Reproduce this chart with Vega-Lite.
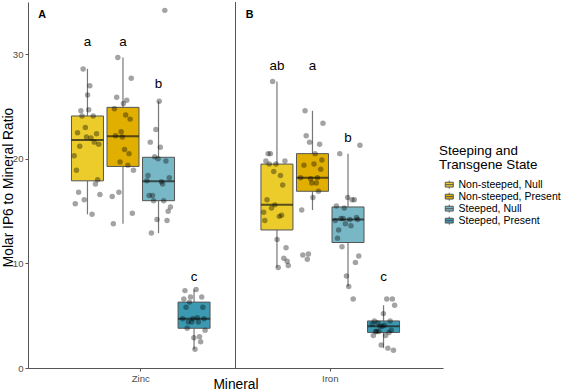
{
  "$schema": "https://vega.github.io/schema/vega-lite/v6.json",
  "width": 415,
  "height": 366,
  "autosize": "none",
  "padding": {"left": 28, "top": 2, "right": 120, "bottom": 24},
  "background": "white",
  "config": {
    "view": {"stroke": null},
    "font": "Liberation Sans",
    "axis": {
      "grid": false,
      "domainColor": "#555555",
      "domainWidth": 1,
      "tickColor": "#555555",
      "tickSize": 3,
      "tickWidth": 1,
      "labelColor": "#4D4D4D",
      "labelFontSize": 9.6,
      "labelFont": "Liberation Sans",
      "titleFont": "Liberation Sans",
      "titleFontSize": 13.8,
      "titleFontWeight": "normal",
      "titleColor": "black"
    }
  },
  "datasets": {
    "pts": [
      {"Mineral":"Zinc","State":"Non-steeped, Null","Sample":"a05","Ratio":20.3},
      {"Mineral":"Zinc","State":"Non-steeped, Null","Sample":"a06","Ratio":15.7},
      {"Mineral":"Zinc","State":"Non-steeped, Null","Sample":"a07","Ratio":18.9},
      {"Mineral":"Zinc","State":"Non-steeped, Null","Sample":"a08","Ratio":22.5},
      {"Mineral":"Zinc","State":"Non-steeped, Null","Sample":"a09","Ratio":16.8},
      {"Mineral":"Zinc","State":"Non-steeped, Null","Sample":"a10","Ratio":21.2},
      {"Mineral":"Zinc","State":"Non-steeped, Null","Sample":"a11","Ratio":24.6},
      {"Mineral":"Zinc","State":"Non-steeped, Null","Sample":"a12","Ratio":24.1},
      {"Mineral":"Zinc","State":"Non-steeped, Null","Sample":"a13","Ratio":28.6},
      {"Mineral":"Zinc","State":"Non-steeped, Null","Sample":"a14","Ratio":16.1},
      {"Mineral":"Zinc","State":"Non-steeped, Null","Sample":"a15","Ratio":23.0},
      {"Mineral":"Zinc","State":"Non-steeped, Null","Sample":"a16","Ratio":22.1},
      {"Mineral":"Zinc","State":"Non-steeped, Null","Sample":"a17","Ratio":26.1},
      {"Mineral":"Zinc","State":"Non-steeped, Null","Sample":"a18","Ratio":24.7},
      {"Mineral":"Zinc","State":"Non-steeped, Null","Sample":"a19","Ratio":27.0},
      {"Mineral":"Zinc","State":"Non-steeped, Null","Sample":"a20","Ratio":22.0},
      {"Mineral":"Zinc","State":"Non-steeped, Null","Sample":"a21","Ratio":14.7},
      {"Mineral":"Zinc","State":"Non-steeped, Null","Sample":"a22","Ratio":24.1},
      {"Mineral":"Zinc","State":"Non-steeped, Null","Sample":"a23","Ratio":21.6},
      {"Mineral":"Zinc","State":"Non-steeped, Null","Sample":"a24","Ratio":17.6},
      {"Mineral":"Zinc","State":"Non-steeped, Null","Sample":"a25","Ratio":22.4},
      {"Mineral":"Zinc","State":"Non-steeped, Null","Sample":"a26","Ratio":18.0},
      {"Mineral":"Zinc","State":"Non-steeped, Null","Sample":"a27","Ratio":21.4},
      {"Mineral":"Zinc","State":"Non-steeped, Null","Sample":"a28","Ratio":16.6},
      {"Mineral":"Zinc","State":"Non-steeped, Present","Sample":"b07","Ratio":16.4},
      {"Mineral":"Zinc","State":"Non-steeped, Present","Sample":"b08","Ratio":13.8},
      {"Mineral":"Zinc","State":"Non-steeped, Present","Sample":"b09","Ratio":24.8},
      {"Mineral":"Zinc","State":"Non-steeped, Present","Sample":"b10","Ratio":22.2},
      {"Mineral":"Zinc","State":"Non-steeped, Present","Sample":"b11","Ratio":25.9},
      {"Mineral":"Zinc","State":"Non-steeped, Present","Sample":"b12","Ratio":29.7},
      {"Mineral":"Zinc","State":"Non-steeped, Present","Sample":"b13","Ratio":16.8},
      {"Mineral":"Zinc","State":"Non-steeped, Present","Sample":"b14","Ratio":19.7},
      {"Mineral":"Zinc","State":"Non-steeped, Present","Sample":"b15","Ratio":22.6},
      {"Mineral":"Zinc","State":"Non-steeped, Present","Sample":"b16","Ratio":22.1},
      {"Mineral":"Zinc","State":"Non-steeped, Present","Sample":"b17","Ratio":25.3},
      {"Mineral":"Zinc","State":"Non-steeped, Present","Sample":"b18","Ratio":20.9},
      {"Mineral":"Zinc","State":"Non-steeped, Present","Sample":"b19","Ratio":24.2},
      {"Mineral":"Zinc","State":"Non-steeped, Present","Sample":"b20","Ratio":25.6},
      {"Mineral":"Zinc","State":"Non-steeped, Present","Sample":"b21","Ratio":19.4},
      {"Mineral":"Zinc","State":"Non-steeped, Present","Sample":"b22","Ratio":20.5},
      {"Mineral":"Zinc","State":"Non-steeped, Present","Sample":"b23","Ratio":23.8},
      {"Mineral":"Zinc","State":"Non-steeped, Present","Sample":"b24","Ratio":27.7},
      {"Mineral":"Zinc","State":"Non-steeped, Present","Sample":"b25","Ratio":14.8},
      {"Mineral":"Zinc","State":"Non-steeped, Present","Sample":"b26","Ratio":18.9},
      {"Mineral":"Zinc","State":"Steeped, Null","Sample":"c06","Ratio":17.9},
      {"Mineral":"Zinc","State":"Steeped, Null","Sample":"c07","Ratio":18.4},
      {"Mineral":"Zinc","State":"Steeped, Null","Sample":"c08","Ratio":16.5},
      {"Mineral":"Zinc","State":"Steeped, Null","Sample":"c09","Ratio":21.6},
      {"Mineral":"Zinc","State":"Steeped, Null","Sample":"c10","Ratio":12.9},
      {"Mineral":"Zinc","State":"Steeped, Null","Sample":"c11","Ratio":16.5},
      {"Mineral":"Zinc","State":"Steeped, Null","Sample":"c12","Ratio":16.0},
      {"Mineral":"Zinc","State":"Steeped, Null","Sample":"c13","Ratio":20.2},
      {"Mineral":"Zinc","State":"Steeped, Null","Sample":"c14","Ratio":22.8},
      {"Mineral":"Zinc","State":"Steeped, Null","Sample":"c15","Ratio":14.2},
      {"Mineral":"Zinc","State":"Steeped, Null","Sample":"c16","Ratio":20.0},
      {"Mineral":"Zinc","State":"Steeped, Null","Sample":"c17","Ratio":25.5},
      {"Mineral":"Zinc","State":"Steeped, Null","Sample":"c18","Ratio":21.1},
      {"Mineral":"Zinc","State":"Steeped, Null","Sample":"c19","Ratio":17.8},
      {"Mineral":"Zinc","State":"Steeped, Null","Sample":"c20","Ratio":17.6},
      {"Mineral":"Zinc","State":"Steeped, Null","Sample":"c21","Ratio":16.0},
      {"Mineral":"Zinc","State":"Steeped, Null","Sample":"c22","Ratio":34.2},
      {"Mineral":"Zinc","State":"Steeped, Null","Sample":"c23","Ratio":19.8},
      {"Mineral":"Zinc","State":"Steeped, Null","Sample":"c24","Ratio":14.1},
      {"Mineral":"Zinc","State":"Steeped, Null","Sample":"c25","Ratio":15.0},
      {"Mineral":"Zinc","State":"Steeped, Null","Sample":"c26","Ratio":18.2},
      {"Mineral":"Zinc","State":"Steeped, Null","Sample":"c27","Ratio":15.4},
      {"Mineral":"Zinc","State":"Steeped, Present","Sample":"d06","Ratio":4.7},
      {"Mineral":"Zinc","State":"Steeped, Present","Sample":"d07","Ratio":6.6},
      {"Mineral":"Zinc","State":"Steeped, Present","Sample":"d08","Ratio":7.4},
      {"Mineral":"Zinc","State":"Steeped, Present","Sample":"d09","Ratio":5.8},
      {"Mineral":"Zinc","State":"Steeped, Present","Sample":"d10","Ratio":3.8},
      {"Mineral":"Zinc","State":"Steeped, Present","Sample":"d11","Ratio":4.4},
      {"Mineral":"Zinc","State":"Steeped, Present","Sample":"d12","Ratio":6.3},
      {"Mineral":"Zinc","State":"Steeped, Present","Sample":"d13","Ratio":6.8},
      {"Mineral":"Zinc","State":"Steeped, Present","Sample":"d14","Ratio":4.4},
      {"Mineral":"Zinc","State":"Steeped, Present","Sample":"d15","Ratio":4.7},
      {"Mineral":"Zinc","State":"Steeped, Present","Sample":"d16","Ratio":2.9},
      {"Mineral":"Zinc","State":"Steeped, Present","Sample":"d17","Ratio":1.8},
      {"Mineral":"Zinc","State":"Steeped, Present","Sample":"d18","Ratio":7.5},
      {"Mineral":"Zinc","State":"Steeped, Present","Sample":"d19","Ratio":4.8},
      {"Mineral":"Zinc","State":"Steeped, Present","Sample":"d20","Ratio":4.4},
      {"Mineral":"Zinc","State":"Steeped, Present","Sample":"d21","Ratio":3.0},
      {"Mineral":"Zinc","State":"Steeped, Present","Sample":"d22","Ratio":2.5},
      {"Mineral":"Zinc","State":"Steeped, Present","Sample":"d23","Ratio":6.8},
      {"Mineral":"Zinc","State":"Steeped, Present","Sample":"d24","Ratio":5.8},
      {"Mineral":"Zinc","State":"Steeped, Present","Sample":"d25","Ratio":4.7},
      {"Mineral":"Zinc","State":"Steeped, Present","Sample":"d26","Ratio":3.6},
      {"Mineral":"Iron","State":"Non-steeped, Null","Sample":"a05","Ratio":14.9},
      {"Mineral":"Iron","State":"Non-steeped, Null","Sample":"a06","Ratio":14.1},
      {"Mineral":"Iron","State":"Non-steeped, Null","Sample":"a07","Ratio":19.8},
      {"Mineral":"Iron","State":"Non-steeped, Null","Sample":"a08","Ratio":16.1},
      {"Mineral":"Iron","State":"Non-steeped, Null","Sample":"a09","Ratio":20.5},
      {"Mineral":"Iron","State":"Non-steeped, Null","Sample":"a10","Ratio":19.5},
      {"Mineral":"Iron","State":"Non-steeped, Null","Sample":"a11","Ratio":20.5},
      {"Mineral":"Iron","State":"Non-steeped, Null","Sample":"a12","Ratio":15.3},
      {"Mineral":"Iron","State":"Non-steeped, Null","Sample":"a13","Ratio":27.4},
      {"Mineral":"Iron","State":"Non-steeped, Null","Sample":"a14","Ratio":18.8},
      {"Mineral":"Iron","State":"Non-steeped, Null","Sample":"a15","Ratio":15.6},
      {"Mineral":"Iron","State":"Non-steeped, Null","Sample":"a16","Ratio":19.5},
      {"Mineral":"Iron","State":"Non-steeped, Null","Sample":"a17","Ratio":12.3},
      {"Mineral":"Iron","State":"Non-steeped, Null","Sample":"a18","Ratio":9.6},
      {"Mineral":"Iron","State":"Non-steeped, Null","Sample":"a19","Ratio":14.5},
      {"Mineral":"Iron","State":"Non-steeped, Null","Sample":"a20","Ratio":18.4},
      {"Mineral":"Iron","State":"Non-steeped, Null","Sample":"a21","Ratio":14.6},
      {"Mineral":"Iron","State":"Non-steeped, Null","Sample":"a22","Ratio":17.5},
      {"Mineral":"Iron","State":"Non-steeped, Null","Sample":"a23","Ratio":10.5},
      {"Mineral":"Iron","State":"Non-steeped, Null","Sample":"a24","Ratio":19.8},
      {"Mineral":"Iron","State":"Non-steeped, Null","Sample":"a25","Ratio":11.5},
      {"Mineral":"Iron","State":"Non-steeped, Null","Sample":"a26","Ratio":10.2},
      {"Mineral":"Iron","State":"Non-steeped, Null","Sample":"a27","Ratio":9.8},
      {"Mineral":"Iron","State":"Non-steeped, Present","Sample":"b06","Ratio":18.2},
      {"Mineral":"Iron","State":"Non-steeped, Present","Sample":"b07","Ratio":15.1},
      {"Mineral":"Iron","State":"Non-steeped, Present","Sample":"b08","Ratio":10.8},
      {"Mineral":"Iron","State":"Non-steeped, Present","Sample":"b09","Ratio":19.4},
      {"Mineral":"Iron","State":"Non-steeped, Present","Sample":"b10","Ratio":24.6},
      {"Mineral":"Iron","State":"Non-steeped, Present","Sample":"b11","Ratio":22.2},
      {"Mineral":"Iron","State":"Non-steeped, Present","Sample":"b12","Ratio":10.4},
      {"Mineral":"Iron","State":"Non-steeped, Present","Sample":"b13","Ratio":10.9},
      {"Mineral":"Iron","State":"Non-steeped, Present","Sample":"b14","Ratio":21.6},
      {"Mineral":"Iron","State":"Non-steeped, Present","Sample":"b15","Ratio":18.1},
      {"Mineral":"Iron","State":"Non-steeped, Present","Sample":"b16","Ratio":17.7},
      {"Mineral":"Iron","State":"Non-steeped, Present","Sample":"b17","Ratio":16.3},
      {"Mineral":"Iron","State":"Non-steeped, Present","Sample":"b18","Ratio":19.5},
      {"Mineral":"Iron","State":"Non-steeped, Present","Sample":"b19","Ratio":20.5},
      {"Mineral":"Iron","State":"Non-steeped, Present","Sample":"b20","Ratio":17.7},
      {"Mineral":"Iron","State":"Non-steeped, Present","Sample":"b21","Ratio":18.2},
      {"Mineral":"Iron","State":"Non-steeped, Present","Sample":"b22","Ratio":16.9},
      {"Mineral":"Iron","State":"Non-steeped, Present","Sample":"b23","Ratio":21.4},
      {"Mineral":"Iron","State":"Non-steeped, Present","Sample":"b24","Ratio":19.0},
      {"Mineral":"Iron","State":"Non-steeped, Present","Sample":"b25","Ratio":19.9},
      {"Mineral":"Iron","State":"Non-steeped, Present","Sample":"b26","Ratio":23.4},
      {"Mineral":"Iron","State":"Steeped, Null","Sample":"c05","Ratio":14.1},
      {"Mineral":"Iron","State":"Steeped, Null","Sample":"c06","Ratio":15.5},
      {"Mineral":"Iron","State":"Steeped, Null","Sample":"c07","Ratio":12.4},
      {"Mineral":"Iron","State":"Steeped, Null","Sample":"c08","Ratio":13.2},
      {"Mineral":"Iron","State":"Steeped, Null","Sample":"c09","Ratio":20.5},
      {"Mineral":"Iron","State":"Steeped, Null","Sample":"c10","Ratio":14.3},
      {"Mineral":"Iron","State":"Steeped, Null","Sample":"c11","Ratio":11.6},
      {"Mineral":"Iron","State":"Steeped, Null","Sample":"c12","Ratio":14.3},
      {"Mineral":"Iron","State":"Steeped, Null","Sample":"c13","Ratio":15.3},
      {"Mineral":"Iron","State":"Steeped, Null","Sample":"c14","Ratio":13.8},
      {"Mineral":"Iron","State":"Steeped, Null","Sample":"c15","Ratio":8.8},
      {"Mineral":"Iron","State":"Steeped, Null","Sample":"c16","Ratio":16.3},
      {"Mineral":"Iron","State":"Steeped, Null","Sample":"c17","Ratio":7.8},
      {"Mineral":"Iron","State":"Steeped, Null","Sample":"c18","Ratio":14.2},
      {"Mineral":"Iron","State":"Steeped, Null","Sample":"c19","Ratio":13.6},
      {"Mineral":"Iron","State":"Steeped, Null","Sample":"c20","Ratio":16.1},
      {"Mineral":"Iron","State":"Steeped, Null","Sample":"c21","Ratio":6.6},
      {"Mineral":"Iron","State":"Steeped, Null","Sample":"c22","Ratio":16.1},
      {"Mineral":"Iron","State":"Steeped, Null","Sample":"c23","Ratio":10.1},
      {"Mineral":"Iron","State":"Steeped, Null","Sample":"c24","Ratio":14.4},
      {"Mineral":"Iron","State":"Steeped, Null","Sample":"c25","Ratio":14.2},
      {"Mineral":"Iron","State":"Steeped, Null","Sample":"c26","Ratio":10.7},
      {"Mineral":"Iron","State":"Steeped, Null","Sample":"c27","Ratio":21.3},
      {"Mineral":"Iron","State":"Steeped, Present","Sample":"d06","Ratio":4.2},
      {"Mineral":"Iron","State":"Steeped, Present","Sample":"d07","Ratio":3.1},
      {"Mineral":"Iron","State":"Steeped, Present","Sample":"d08","Ratio":4.5},
      {"Mineral":"Iron","State":"Steeped, Present","Sample":"d09","Ratio":3.5},
      {"Mineral":"Iron","State":"Steeped, Present","Sample":"d10","Ratio":3.5},
      {"Mineral":"Iron","State":"Steeped, Present","Sample":"d11","Ratio":4.3},
      {"Mineral":"Iron","State":"Steeped, Present","Sample":"d12","Ratio":3.5},
      {"Mineral":"Iron","State":"Steeped, Present","Sample":"d13","Ratio":4.0},
      {"Mineral":"Iron","State":"Steeped, Present","Sample":"d14","Ratio":2.2},
      {"Mineral":"Iron","State":"Steeped, Present","Sample":"d15","Ratio":4.0},
      {"Mineral":"Iron","State":"Steeped, Present","Sample":"d16","Ratio":5.2},
      {"Mineral":"Iron","State":"Steeped, Present","Sample":"d17","Ratio":4.1},
      {"Mineral":"Iron","State":"Steeped, Present","Sample":"d18","Ratio":3.1},
      {"Mineral":"Iron","State":"Steeped, Present","Sample":"d19","Ratio":6.6},
      {"Mineral":"Iron","State":"Steeped, Present","Sample":"d20","Ratio":1.9},
      {"Mineral":"Iron","State":"Steeped, Present","Sample":"d21","Ratio":3.4},
      {"Mineral":"Iron","State":"Steeped, Present","Sample":"d22","Ratio":4.5},
      {"Mineral":"Iron","State":"Steeped, Present","Sample":"d23","Ratio":3.6},
      {"Mineral":"Iron","State":"Steeped, Present","Sample":"d24","Ratio":6.6},
      {"Mineral":"Iron","State":"Steeped, Present","Sample":"d25","Ratio":1.7},
      {"Mineral":"Iron","State":"Steeped, Present","Sample":"d26","Ratio":6.0}
    ],
    "letters": [
      {"Mineral":"Zinc","State":"Non-steeped, Null","Letter":"a","LabelY":30.8},
      {"Mineral":"Zinc","State":"Non-steeped, Present","Letter":"a","LabelY":30.8},
      {"Mineral":"Zinc","State":"Steeped, Null","Letter":"b","LabelY":26.8},
      {"Mineral":"Zinc","State":"Steeped, Present","Letter":"c","LabelY":8.3},
      {"Mineral":"Iron","State":"Non-steeped, Null","Letter":"ab","LabelY":28.5},
      {"Mineral":"Iron","State":"Non-steeped, Present","Letter":"a","LabelY":28.5},
      {"Mineral":"Iron","State":"Steeped, Null","Letter":"b","LabelY":21.65},
      {"Mineral":"Iron","State":"Steeped, Present","Letter":"c","LabelY":8.3}
    ],
    "panels": [
      {"Panel":"A","PX":0.475,"PY":33.8},
      {"Panel":"B","PX":1.575,"PY":33.8}
    ]
  },
  "layer": [
    {
      "layer": [
        {
          "layer": [
            {
              "data": {"name": "pts"},
              "mark": {
                "type": "boxplot",
                "extent": 1.5,
                "size": 32,
                "outliers": false,
                "ticks": false,
                "box": {"stroke": "#555555", "strokeWidth": 1},
                "median": {"color": "#1a1a1a", "thickness": 2},
                "rule": {"color": "#777777", "strokeWidth": 1.2}
              },
              "encoding": {
                "x": {"field": "Mineral", "type": "nominal", "sort": ["Zinc", "Iron"], "title": "Mineral",
                      "scale": {"domain": ["Zinc", "Iron"], "paddingInner": 0.25, "paddingOuter": 0.22},
                      "axis": {"labelAngle": 0, "labelPadding": 2, "titleY": 20, "titleBaseline": "alphabetic"}},
                "xOffset": {"field": "State", "type": "nominal",
                      "scale": {"domain": ["Non-steeped, Null", "Non-steeped, Present", "Steeped, Null", "Steeped, Present"], "paddingInner": 0.1, "paddingOuter": 0.05}},
                "y": {"field": "Ratio", "type": "quantitative", "title": "Molar IP6 to Mineral Ratio",
                      "scale": {"domain": [0, 35], "nice": false, "zero": true},
                      "axis": {"values": [0, 10, 20, 30], "labelPadding": 2, "titleX": -15.7, "titleY": 185, "titleBaseline": "alphabetic", "titleAngle": -90, "titleAlign": "center"}},
                "color": {"field": "State", "type": "nominal",
                      "scale": {"domain": ["Non-steeped, Null", "Non-steeped, Present", "Steeped, Null", "Steeped, Present"],
                                "range": ["#EBCC2A", "#E1AF00", "#78B7C5", "#3B9AB2"]},
                      "legend": {
                        "title": ["Steeping and", "Transgene State"],
                        "orient": "none",
                        "legendX": 411,
                        "legendY": 142,
                        "padding": 0,
                        "titleFont": "Liberation Sans",
                        "titleFontSize": 13.4,
                        "titleFontWeight": "normal",
                        "titleColor": "black",
                        "titleLineHeight": 14,
                        "titlePadding": 8,
                        "labelFont": "Liberation Sans",
                        "labelFontSize": 10.5,
                        "labelColor": "black",
                        "labelOffset": 4,
                        "rowPadding": -2.5,
                        "symbolOffset": 5,
                        "symbolSize": 64,
                        "symbolType": "M-1,-0.6H1V0.6H-1Z M-1,0H1 M0,-0.6V-1 M0,0.6V1",
                        "symbolStrokeColor": "#555555",
                        "symbolStrokeWidth": 1,
                        "symbolOpacity": 1
                      }}
              }
            },
            {
              "data": {"name": "letters"},
              "mark": {"type": "text", "fontSize": 13.4, "font": "Liberation Sans", "color": "black", "baseline": "alphabetic", "align": "center"},
              "encoding": {
                "x": {"field": "Mineral", "type": "nominal", "sort": ["Zinc", "Iron"], "title": "Mineral"},
                "xOffset": {"field": "State", "type": "nominal"},
                "y": {"field": "LabelY", "type": "quantitative", "title": "Molar IP6 to Mineral Ratio"},
                "text": {"field": "Letter", "type": "nominal"}
              }
            }
          ]
        },
        {
          "data": {"name": "pts"},
          "mark": {"type": "circle", "size": 30, "color": "black", "opacity": 0.36},
          "encoding": {
            "x": {"field": "Mineral", "type": "nominal", "sort": ["Zinc", "Iron"], "title": "Mineral"},
            "xOffset": {"field": "Sample", "type": "nominal",
                  "scale": {"domain": [
                    "a01","a02","a03","a04","a05","a06","a07","a08","a09","a10","a11","a12","a13","a14","a15","a16","a17","a18","a19","a20","a21","a22","a23","a24","a25","a26","a27","a28","a29","a30","a31","a32",
                    "b01","b02","b03","b04","b05","b06","b07","b08","b09","b10","b11","b12","b13","b14","b15","b16","b17","b18","b19","b20","b21","b22","b23","b24","b25","b26","b27","b28","b29","b30","b31","b32",
                    "c01","c02","c03","c04","c05","c06","c07","c08","c09","c10","c11","c12","c13","c14","c15","c16","c17","c18","c19","c20","c21","c22","c23","c24","c25","c26","c27","c28","c29","c30","c31","c32",
                    "d01","d02","d03","d04","d05","d06","d07","d08","d09","d10","d11","d12","d13","d14","d15","d16","d17","d18","d19","d20","d21","d22","d23","d24","d25","d26","d27","d28","d29","d30","d31","d32"
                  ], "paddingInner": 0, "paddingOuter": 0}},
            "y": {"field": "Ratio", "type": "quantitative", "title": "Molar IP6 to Mineral Ratio"}
          }
        }
      ],
      "resolve": {"scale": {"xOffset": "independent"}}
    },
    {
      "layer": [
        {
          "data": {"name": "panels"},
          "mark": {"type": "text", "fontSize": 10.7, "fontWeight": "bold", "font": "Liberation Sans", "color": "black", "baseline": "middle", "align": "center"},
          "encoding": {
            "x": {"field": "PX", "type": "quantitative", "scale": {"domain": [0.4, 2.6], "nice": false, "zero": false}, "axis": null},
            "y": {"field": "PY", "type": "quantitative", "title": "Molar IP6 to Mineral Ratio"},
            "text": {"field": "Panel", "type": "nominal"}
          }
        },
        {
          "data": {"values": [{"Divider": 1.5}]},
          "mark": {"type": "rule", "color": "#555555", "strokeWidth": 1},
          "encoding": {
            "x": {"field": "Divider", "type": "quantitative", "axis": null}
          }
        }
      ]
    }
  ],
  "resolve": {"scale": {"x": "independent"}}
}
